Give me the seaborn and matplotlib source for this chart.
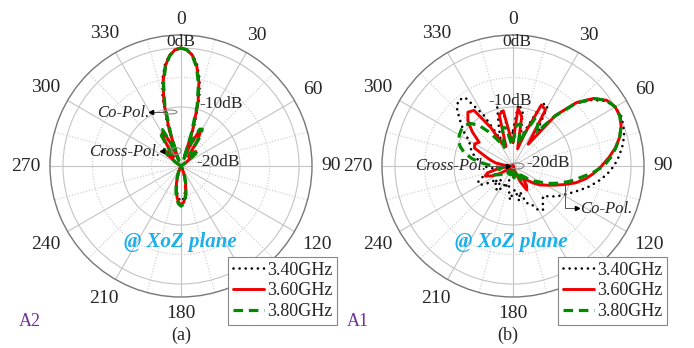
import numpy as np
import pandas as pd
import matplotlib
matplotlib.use("Agg")
import matplotlib.pyplot as plt
import seaborn as sns
from matplotlib.patches import Ellipse
from matplotlib.lines import Line2D
from matplotlib.ticker import NullFormatter

sns.set_style("white")
plt.rcParams["font.family"] = ["Liberation Serif", "DejaVu Serif"]

# ---------------- data ----------------
freq_labels = ["3.40GHz", "3.60GHz", "3.80GHz"]
theta_ticks = list(range(0, 360, 30))
visible_theta_labels = [0, 30, 60, 90, 120, 180, 210, 240, 270, 300, 330]  # 150 sits under the legend

# (a) A2 antenna, XoZ plane (angle in degrees, gain in dB; -20 = floor)
ang_a = [0, 3, 6, 9, 12, 15, 18, 21, 24, 27, 30, 33, 36, 40, 45, 50, 55, 60, 70, 80,
         90, 100, 110, 120, 130, 140, 150, 155, 160, 165, 170, 173, 176, 180, 184, 187,
         190, 195, 200, 205, 210, 220, 230, 240, 250, 260, 270, 280, 290, 300, 305, 310,
         315, 320, 324, 327, 330, 333, 336, 339, 342, 345, 348, 351, 354, 357, 360]
a_340 = [0, -0.3, -1.1, -2.6, -4.9, -8.0, -12.5, -17.5, -16.5, -14.5, -14.0, -15.0, -17.0, -18.0, -16.8, -17.5, -19.0, -20, -20, -20,
         -20, -20, -20, -20, -20, -20, -20, -19.5, -18.8, -17.3, -16.0, -15.0, -14.4, -14.0, -14.5, -15.1,
         -16.0, -17.4, -18.8, -19.6, -20, -20, -20, -20, -20, -20, -20, -20, -20, -20, -19.2, -17.4,
         -16.8, -18.0, -17.0, -15.0, -14.0, -14.5, -16.5, -17.5, -12.5, -8.0, -4.9, -2.6, -1.1, -0.3, 0]
a_360 = [0, -0.3, -1.2, -2.9, -5.4, -8.8, -13.5, -18.5, -16.0, -13.8, -13.5, -14.8, -17.5, -18.0, -16.5, -17.0, -19.0, -20, -20, -20,
         -20, -20, -20, -20, -20, -20, -20, -19.5, -18.5, -17.0, -15.5, -14.5, -13.8, -13.4, -13.9, -14.6,
         -15.5, -17.0, -18.5, -19.5, -20, -20, -20, -20, -20, -20, -20, -20, -20, -20, -19.0, -17.0,
         -16.5, -18.0, -17.5, -14.8, -13.6, -13.8, -16.0, -18.5, -13.5, -8.8, -5.4, -2.9, -1.2, -0.3, 0]
a_380 = [0, -0.3, -1.3, -3.1, -5.8, -9.4, -14.5, -19.0, -15.0, -13.0, -12.8, -14.0, -17.0, -17.5, -16.0, -16.8, -19.0, -20, -20, -20,
         -20, -20, -20, -20, -20, -20, -20, -19.3, -18.2, -16.8, -15.2, -14.2, -13.5, -13.2, -13.6, -14.3,
         -15.2, -16.8, -18.3, -19.4, -20, -20, -20, -20, -20, -20, -20, -20, -20, -20, -18.8, -16.6,
         -16.0, -17.5, -16.8, -14.0, -12.9, -13.1, -15.5, -19.0, -14.5, -9.4, -5.8, -3.1, -1.3, -0.3, 0]

# (b) A1 antenna, XoZ plane
ang_b = list(range(0, 365, 5))
b_340 = [-14, -9.5, -10.5, -15, -13, -8.3, -8.2, -13, -9, -5, -2.6, -0.8, 0, 0.2, -0.1, -0.5, -1.2, -2.0,
         -2.9, -4.0, -5.3, -6.6, -8.0, -9.2, -10.2, -11.0, -12.0, -12.8, -12.2, -11.0, -11.3, -13.0, -13.3, -15.5,
         -14.0, -16.0, -15.5, -14.2, -16.0, -17.5, -16.0, -16.5, -15.2, -15.0, -17.0, -15.5, -16.5, -15.0, -13.6, -13.4,
         -14.5, -16.0, -17.5, -16.0, -15.0, -14.8, -14.0, -13.2, -12.5, -12.0, -11.4, -9.8, -8.4, -6.6, -5.5, -5.8,
         -10.0, -15.0, -13.0, -9.7, -11.0, -16.0, -14]
b_360 = [-16, -10.2, -11.5, -17, -14, -8.6, -9.0, -15.5, -8.8, -4.8, -2.2, -0.6, 0, 0, -0.5, -1.3, -2.4, -3.7,
         -5.0, -6.2, -7.5, -9.0, -10.8, -12.3, -13.5, -14.4, -15.5, -16.6, -17.5, -16.0, -15.3, -17.0, -19.0, -20,
         -19.0, -18.0, -19.0, -20, -20, -19.0, -18.5, -19.5, -20, -20, -19.5, -19.0, -19.5, -19.0, -17.5, -16.0,
         -15.0, -15.5, -17.5, -19.5, -20, -18.5, -17.0, -16.0, -14.8, -12.8, -12.5, -13.0, -11.0, -9.2, -8.1, -8.5,
         -12.5, -16.0, -16.5, -11.0, -10.5, -15.0, -16]
b_380 = [-16, -13, -12.8, -16, -14, -11, -11.5, -13, -9, -5, -2.2, -0.6, 0, 0, -0.5, -1.3, -2.3, -3.4,
         -4.6, -6.5, -8.5, -10.0, -11.5, -13.0, -14.5, -15.5, -16.5, -17.5, -18.0, -17.0, -17.5, -18.5, -18.0, -18.5,
         -19.0, -18.0, -18.5, -19.0, -18.5, -19.0, -18.0, -18.5, -19.0, -18.5, -19.0, -18.5, -18.0, -17.5, -17.0, -16.5,
         -16.5, -17.5, -18.0, -17.5, -16.5, -15.0, -13.0, -11.5, -10.5, -9.8, -9.5, -9.3, -9.3, -9.8, -11.0, -13.0,
         -15.0, -16.5, -15.0, -13.2, -13.5, -16.0, -16]

# ---------------- figure ----------------
W, H = 694, 348
fig = plt.figure(figsize=(W / 100, H / 100), dpi=100)
fig.patch.set_facecolor("white")


def fx(x):
    return x / W


def fy(y):
    return 1 - y / H


R = 131
RMIN, RMAX = -20, 2.2

styles = [
    dict(color="black", lw=1.9, linestyle=(0, (0.01, 2.3)), dash_capstyle="round"),
    dict(color="#ee0000", lw=2.1, linestyle="-"),
    dict(color="#008a00", lw=2.3, linestyle=(0, (3.0, 1.8))),
]


def label_radius(t, text):
    # gap from rim to the label box, plus the half-extent of the box along the ray
    th = np.deg2rad(t)
    half_w = 5.0 * len(text)
    half_h = 7.0
    rpx = 140 + abs(np.sin(th)) * half_w + abs(np.cos(th)) * half_h
    return RMIN + (RMAX - RMIN) * rpx / R


def make_polar(cx, cy):
    ax = fig.add_axes([fx(cx - R), fy(cy + R), 2 * R / W, 2 * R / H], projection="polar")
    ax.set_theta_zero_location("N")
    ax.set_theta_direction(-1)
    ax.set_ylim(RMIN, RMAX)
    ax.set_xticks(np.deg2rad(theta_ticks))
    ax.set_xticklabels([])
    ax.set_xticks(np.deg2rad([t + 15 for t in theta_ticks]), minor=True)
    ax.set_yticks([-10, 0])
    ax.set_yticks([-15, -5], minor=True)
    ax.set_yticklabels([])
    ax.yaxis.set_minor_formatter(NullFormatter())
    ax.grid(which="major", color="#c4c4c4", lw=0.8, ls="-")
    ax.grid(which="minor", color="#c8c8c8", lw=0.8, ls=":")
    ax.tick_params(axis="both", which="both", length=0)
    ax.spines["polar"].set_color("#777777")
    ax.spines["polar"].set_linewidth(1.0)
    ax.set_facecolor("white")
    for t in visible_theta_labels:
        s = str(t)
        ax.text(np.deg2rad(t), label_radius(t, s), s, ha="center", va="center",
                fontsize=14, clip_on=False)
    return ax


def draw(ax, ang, series):
    handles = []
    for lab, vals, st in zip(freq_labels, series, styles):
        df = pd.DataFrame({"theta": np.deg2rad(ang), "gain": vals})
        sns.lineplot(data=df, x="theta", y="gain", ax=ax, sort=False, estimator=None, **st)
        handles.append(Line2D([], [], **st))
    ax.set_xlabel("")
    ax.set_ylabel("")
    return handles


def legend(ax, handles, xr):
    lg = ax.legend(handles, freq_labels, loc="upper right",
                   bbox_to_anchor=(fx(xr), fy(257)), bbox_transform=fig.transFigure,
                   frameon=True, fancybox=False, edgecolor="#888888", framealpha=1,
                   prop={"family": "Liberation Serif", "size": 13},
                   handlelength=1.7, handletextpad=0.2, borderpad=0.25,
                   labelspacing=0.22, borderaxespad=0)
    lg.get_frame().set_linewidth(0.8)
    lg.set_zorder(10)


axA = make_polar(181, 166)
hA = draw(axA, ang_a, [a_340, a_360, a_380])
legend(axA, hA, 337)

axB = make_polar(513, 166)
hB = draw(axB, ang_b, [b_340, b_360, b_380])
legend(axB, hB, 667)

# radial labels
rl = dict(fontsize=12.5, va="center")
fig.text(fx(181), fy(42), "0dB", ha="center", **rl)
fig.text(fx(199), fy(104), "-10dB", ha="left", **rl)
fig.text(fx(196), fy(162), "-20dB", ha="left", **rl)
fig.text(fx(517), fy(42), "0dB", ha="center", **rl)
fig.text(fx(510), fy(101), "-10dB", ha="center", **rl)
fig.text(fx(526), fy(163), "-20dB", ha="left", **rl)

# plane note
for cx in (180, 511):
    fig.text(fx(cx), fy(242), "@ XoZ plane", ha="center", va="center", color="#1ab0ea",
             fontsize=15, fontweight="bold", fontstyle="italic")

# captions
fig.text(fx(181), fy(335), "(a)", ha="center", va="center", fontsize=13)
fig.text(fx(508), fy(335), "(b)", ha="center", va="center", fontsize=13)
fig.text(fx(30), fy(322), "A2", ha="center", va="center", fontsize=13, color="#7030a0")
fig.text(fx(358), fy(322), "A1", ha="center", va="center", fontsize=13, color="#7030a0")

# polarisation annotations
it = dict(fontsize=12, fontstyle="italic", va="center")


def ell(cx, cy, w, h):
    fig.add_artist(Ellipse((fx(cx), fy(cy)), w / W, h / H, transform=fig.transFigure,
                           fill=False, edgecolor="#888888", lw=0.8))


def pointer(xs, ys, head, mark):
    fig.add_artist(Line2D([fx(x) for x in xs], [fy(y) for y in ys], transform=fig.transFigure,
                          color="#555555", lw=0.7))
    fig.add_artist(Line2D([fx(head[0])], [fy(head[1])], transform=fig.transFigure,
                          marker=mark, color="black", markersize=3))


fig.text(fx(149), fy(113), "Co-Pol.", ha="right", **it)
pointer([151, 163], [112, 112], (151, 112), "<")
ell(170, 112, 14, 4)

fig.text(fx(160), fy(152), "Cross-Pol.", ha="right", **it)
pointer([162, 170], [151, 151], (162, 151), "<")
ell(176, 151, 10, 7)

fig.text(fx(486), fy(166), "Cross-Pol.", ha="right", **it)
pointer([488, 507], [166, 166], (508, 166), ">")
ell(517, 166, 14, 6)

fig.text(fx(580), fy(209), "Co-Pol.", ha="left", **it)
pointer([565, 565, 576], [184, 208, 208], (577, 208), ">")

fig.savefig("out.png", dpi=100, facecolor="white")
